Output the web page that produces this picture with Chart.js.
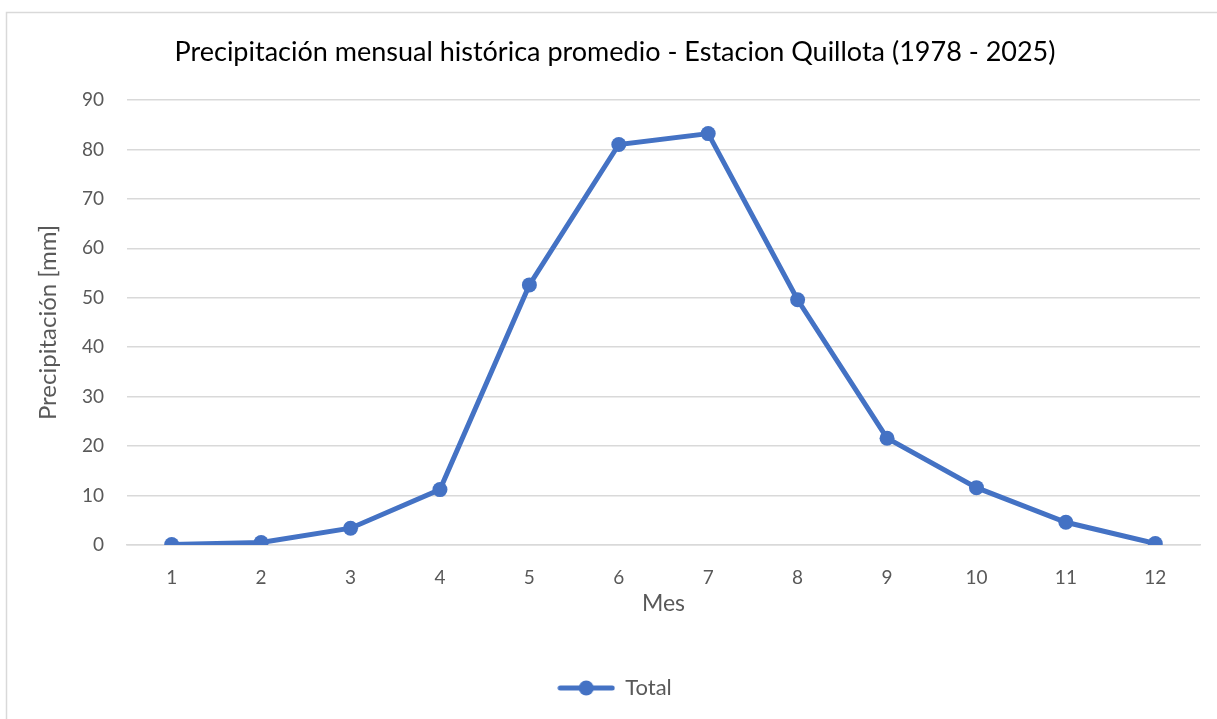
<!DOCTYPE html>
<html>
<head>
<meta charset="utf-8">
<script src="https://cdn.jsdelivr.net/npm/chart.js@4.4.1/dist/chart.umd.min.js"></script>
<style>
  html, body { margin: 0; padding: 0; background: #fff; }
  #wrap { width: 1217px; height: 719px; position: relative; }
</style>
</head>
<body>
<div id="wrap"><canvas id="lineChart"></canvas></div>
<script>
var meses = ["1", "2", "3", "4", "5", "6", "7", "8", "9", "10", "11", "12"];
var total = [0.1, 0.5, 3.4, 11.2, 52.6, 81.0, 83.2, 49.6, 21.6, 11.6, 4.6, 0.3];
var yTicks = [0, 10, 20, 30, 40, 50, 60, 70, 80, 90];

var azul = "#4472C4";
var gris = "#595959";
var fuente = "Lato, 'Open Sans', sans-serif";

// legend marker: short line with a dot, like Excel
var marca = document.createElement("canvas");
marca.width = 58;
marca.height = 18;
var mctx = marca.getContext("2d");
mctx.strokeStyle = azul;
mctx.lineWidth = 5;
mctx.lineCap = "round";
mctx.beginPath();
mctx.moveTo(3, 9);
mctx.lineTo(55, 9);
mctx.stroke();
mctx.fillStyle = azul;
mctx.beginPath();
mctx.arc(29, 9, 7.5, 0, Math.PI * 2);
mctx.fill();

var borde = {
  id: "borde",
  beforeDraw: function (chart) {
    var c = chart.ctx;
    c.save();
    c.fillStyle = "#fff";
    c.fillRect(0, 0, chart.width, chart.height);
    c.strokeStyle = "#d9d9d9";
    c.lineWidth = 1.5;
    c.strokeRect(6.5, 12.5, chart.width + 20, chart.height + 20);
    c.restore();
  }
};

var make_chart = function make_chart(id) {
  var ctx = document.getElementById(id);
  return new Chart(ctx, {
    type: "line",
    data: {
      labels: meses,
      datasets: [{
        label: "Total",
        data: total,
        borderColor: azul,
        backgroundColor: azul,
        borderWidth: 5,
        pointRadius: 7.5,
        pointHoverRadius: 7.5,
        pointBackgroundColor: azul,
        pointBorderWidth: 0,
        tension: 0
      }]
    },
    options: {
      responsive: true,
      maintainAspectRatio: false,
      animation: false,
      layout: { padding: { left: 30, right: 17, top: 0, bottom: 10 } },
      plugins: {
        title: {
          display: true,
          text: "Precipitación mensual histórica promedio - Estacion Quillota (1978 - 2025)",
          color: "#000",
          font: { family: fuente, size: 27, weight: "normal" },
          padding: { top: 36, bottom: 31.6 }
        },
        legend: {
          position: "bottom",
          labels: {
            usePointStyle: true,
            pointStyleWidth: 56,
            color: gris,
            font: { family: fuente, size: 22 },
            generateLabels: function (chart) {
              var items = Chart.defaults.plugins.legend.labels.generateLabels(chart);
              items.forEach(function (it) { it.pointStyle = marca; });
              return items;
            }
          }
        },
        tooltip: { enabled: false }
      },
      scales: {
        x: {
          type: "category",
          offset: true,
          grid: { display: false, drawTicks: false },
          border: { display: true, color: "#d9d9d9", width: 1.5 },
          ticks: { color: gris, font: { family: fuente, size: 19 }, padding: 21, maxRotation: 0 },
          title: { display: true, text: "Mes", color: gris, font: { family: fuente, size: 23 }, padding: { top: 0, bottom: 50 } },
          afterFit: function (scale) { scale.height = 122; }
        },
        y: {
          min: 0,
          max: 90,
          grid: { color: "#d9d9d9", lineWidth: 1.5, drawTicks: false },
          border: { display: false },
          afterBuildTicks: function (scale) {
            scale.ticks = yTicks.map(function (v) { return { value: v }; });
          },
          ticks: { color: gris, font: { family: fuente, size: 19 }, padding: 23 },
          title: { display: true, text: "Precipitación [mm]", color: gris, font: { family: fuente, size: 24 }, padding: { top: 4, bottom: 4 } },
          afterFit: function (scale) { scale.width = 97; }
        }
      }
    },
    plugins: [borde]
  });
};

window.make_chart = make_chart;
make_chart("lineChart");
</script>
</body>
</html>
